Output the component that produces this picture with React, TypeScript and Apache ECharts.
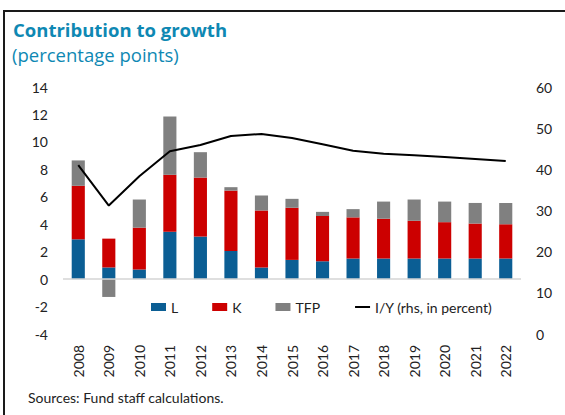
import React, { useEffect, useRef } from "react";
import * as echarts from "echarts";

const years = ["2008","2009","2010","2011","2012","2013","2014","2015","2016","2017","2018","2019","2020","2021","2022"];
const laborL = [2.9, 0.85, 0.7, 3.45, 3.1, 2.05, 0.85, 1.4, 1.3, 1.5, 1.5, 1.5, 1.5, 1.5, 1.5];
const capitalK = [3.9, 2.1, 3.05, 4.15, 4.3, 4.4, 4.15, 3.8, 3.3, 3.0, 2.9, 2.75, 2.65, 2.55, 2.5];
const tfp = [1.85, -1.3, 2.05, 4.25, 1.85, 0.25, 1.1, 0.65, 0.3, 0.6, 1.25, 1.55, 1.5, 1.5, 1.55];
const investmentToY = [41.0, 31.2, 38.3, 44.4, 45.9, 48.1, 48.6, 47.6, 46.1, 44.5, 43.8, 43.4, 43.0, 42.5, 42.0];

const FONT = "Lato";

export default function App() {
  const ref = useRef<HTMLDivElement>(null);
  useEffect(() => {
    if (!ref.current) return;
    const chart = echarts.init(ref.current, undefined, { renderer: "svg" });
    chart.setOption({
      animation: false,
      backgroundColor: "#ffffff",
      textStyle: { fontFamily: FONT },
      grid: { left: 63, right: 44, top: 87, bottom: 81, containLabel: false },
      graphic: [
        { type: "line", shape: { x1: 4, y1: 11, x2: 565, y2: 11 }, style: { stroke: "#1a1a1a", lineWidth: 2 } },
        { type: "line", shape: { x1: 4, y1: 10, x2: 4, y2: 415 }, style: { stroke: "#1a1a1a", lineWidth: 2 } },
        { type: "text", left: 13, top: 20, style: { text: "Contribution to growth", fontFamily: "Open Sans", fontWeight: "bold", fontSize: 18.5, fill: "#0E88B3" } },
        { type: "text", left: 12, top: 45, style: { text: "(percentage points)", fontFamily: "Open Sans", fontSize: 18.5, fill: "#0E88B3" } },
        { type: "text", left: 28, top: 390, style: { text: "Sources: Fund staff calculations.", fontFamily: FONT, fontSize: 14, fill: "#222222" } },
      ],
      legend: {
        left: 146,
        top: 295,
        itemWidth: 15,
        itemHeight: 8,
        itemGap: 34,
        textStyle: { fontFamily: FONT, fontSize: 14, color: "#222222" },
        data: [
          { name: "L", icon: "rect" },
          { name: "K", icon: "rect" },
          { name: "TFP", icon: "rect" },
          { name: "I/Y (rhs, in percent)", itemStyle: { opacity: 0 } },
        ],
      },
      xAxis: {
        type: "category",
        data: years,
        axisLine: { show: false, onZero: false },
        axisTick: { show: false },
        axisLabel: { rotate: 90, margin: 11, fontFamily: FONT, fontSize: 14, color: "#222222" },
      },
      yAxis: [
        {
          type: "value",
          min: -4,
          max: 14,
          interval: 2,
          splitLine: { show: false },
          axisLine: { show: false },
          axisTick: { show: false },
          axisLabel: { margin: 15, fontFamily: FONT, fontSize: 14, color: "#222222" },
        },
        {
          type: "value",
          min: 0,
          max: 60,
          interval: 10,
          position: "right",
          splitLine: { show: false },
          axisLine: { show: false },
          axisTick: { show: false },
          axisLabel: { margin: 15, fontFamily: FONT, fontSize: 14, color: "#222222" },
        },
      ],
      series: [
        {
          name: "L",
          type: "bar",
          stack: "g",
          barWidth: "43%",
          data: laborL,
          itemStyle: { color: "#0B5E94" },
          markLine: {
            silent: true,
            symbol: "none",
            label: { show: false },
            lineStyle: { color: "#D4D4D4", width: 1.5, type: "solid" },
            data: [{ yAxis: 0 }],
          },
        },
        { name: "K", type: "bar", stack: "g", data: capitalK, itemStyle: { color: "#CC0000" } },
        { name: "TFP", type: "bar", stack: "g", data: tfp, itemStyle: { color: "#808080" } },
        {
          name: "I/Y (rhs, in percent)",
          type: "line",
          yAxisIndex: 1,
          data: investmentToY,
          symbol: "none",
          z: 5,
          itemStyle: { color: "#000000" },
          lineStyle: { color: "#000000", width: 2 },
        },
      ],
    });
    return () => chart.dispose();
  }, []);
  return <div ref={ref} style={{ position: "fixed", left: 0, top: 0, width: 565, height: 415 }} />;
}
